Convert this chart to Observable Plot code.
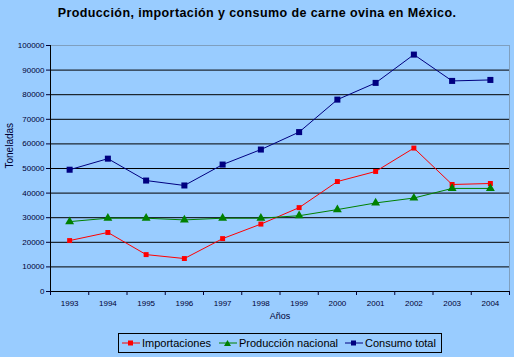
<!DOCTYPE html>
<html><head><meta charset="utf-8">
<script src="https://cdn.jsdelivr.net/npm/d3@7"></script>
<script src="https://cdn.jsdelivr.net/npm/@observablehq/plot@0.6"></script>
<style>
html,body{margin:0;padding:0;background:#99ccff;}
#wrap{position:relative;width:514px;height:357px;background:#99ccff;font-family:"Liberation Sans",Arial,sans-serif;overflow:hidden;}
#title{position:absolute;left:0;top:6px;width:514px;text-align:center;font-weight:bold;font-size:12.5px;letter-spacing:0.4px;color:#000;white-space:nowrap;}
#chart{position:absolute;left:0;top:0;}
#legend{position:absolute;left:118px;top:333px;width:322px;height:18px;border:1px solid #000;box-sizing:content-box;font-size:11px;color:#000;}
#legend .it{position:absolute;top:0;height:18px;display:flex;align-items:center;white-space:nowrap;}
#legend svg{margin-right:2px;}
</style>
</head><body>
<div id="wrap">
  <div id="chart"></div>
  <div id="title">Producción, importación y consumo de carne ovina en México.</div>
  <div id="legend"></div>
</div>
<script>
const years = [1993,1994,1995,1996,1997,1998,1999,2000,2001,2002,2003,2004];
const importaciones = [20700,24000,15000,13400,21500,27400,34100,44700,48800,58300,43500,43900];
const produccion = [28400,29800,29800,29100,29800,29800,30800,33300,36000,38000,41900,41900];
const consumo = [49500,54000,45100,43100,51600,57700,64800,78000,84800,96300,85600,86000];
const seriesNames = ["Importaciones","Producción nacional","Consumo total"];
const seriesColors = ["#ff0000","#008000","#000080"];
const seriesSymbols = ["square","triangle","square"];
const seriesR = [2.8,3.3,3.4];
const yTicks = d3.range(0,100001,10000);

const allSeries = [importaciones, produccion, consumo];
const data = [];
allSeries.forEach((vals,i)=>vals.forEach((v,j)=>data.push({year:years[j],value:v,serie:seriesNames[i]})));

const marks = [
  Plot.gridY(yTicks.filter(d=>d>0 && d<100000),{stroke:"#000",strokeOpacity:1,strokeWidth:1}),
  Plot.ruleY([100000],{stroke:"#7f9fbf"}),
  Plot.ruleX([2004.5],{stroke:"#7f9fbf"}),
  Plot.ruleX([1992.5],{stroke:"#000"}),
  Plot.ruleY([0],{stroke:"#000"}),
  Plot.axisY({ticks:yTicks,tickFormat:d=>String(d),tickSize:4,tickPadding:2,label:null,fontSize:8}),
  Plot.axisX({ticks:d3.range(1992.5,2005,1),tickSize:4,tickFormat:()=>"",label:null}),
  Plot.axisX({ticks:years,tickSize:0,tickPadding:9,tickFormat:d=>String(d),label:null,fontSize:8}),
  Plot.text(["Toneladas"],{frameAnchor:"left",dx:-41,rotate:-90,fontSize:10}),
  Plot.text(["Años"],{frameAnchor:"bottom",dy:27,fontSize:9})
];
seriesNames.forEach((name,i)=>{
  const d = data.filter(r=>r.serie===name);
  marks.push(Plot.line(d,{x:"year",y:"value",stroke:seriesColors[i],strokeWidth:1}));
  marks.push(Plot.dot(d,{x:"year",y:"value",symbol:seriesSymbols[i],fill:seriesColors[i],stroke:"none",r:seriesR[i]}));
});

const chart = Plot.plot({
  width:514,height:357,
  marginTop:45,marginBottom:66,marginLeft:50,marginRight:5,
  style:{background:"transparent",fontFamily:"'Liberation Sans',Arial,sans-serif",fontSize:"8px",color:"#000033"},
  x:{domain:[1992.5,2004.5]},
  y:{domain:[0,100000]},
  marks
});
document.getElementById("chart").appendChild(chart);

const legend = document.getElementById("legend");
const legendLeft = [3,100,226];
seriesNames.forEach((name,i)=>{
  const it = document.createElement("div");
  it.className="it";
  it.style.left = legendLeft[i]+"px";
  const sym = seriesSymbols[i]==="square"
    ? `<rect x="6" y="3.5" width="5" height="5" fill="${seriesColors[i]}"/>`
    : `<polygon points="8.5,3 12,9 5,9" fill="${seriesColors[i]}"/>`;
  it.innerHTML = `<svg width="18" height="12"><line x1="0" y1="6" x2="18" y2="6" stroke="${seriesColors[i]}" stroke-width="1"/>${sym}</svg><span>${name}</span>`;
  legend.appendChild(it);
});
</script>
</body></html>
